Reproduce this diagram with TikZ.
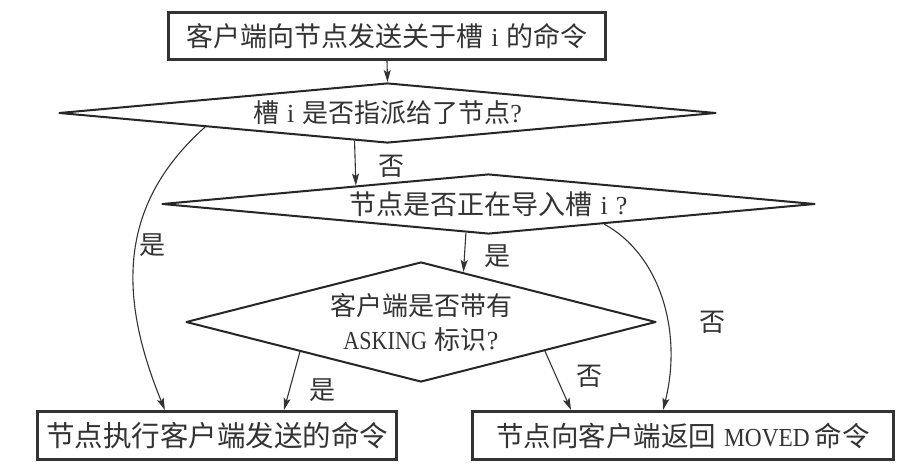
\documentclass[tikz,border=0pt]{standalone}
\usepackage{fontspec}
\setmainfont{Liberation Serif}
\newfontfamily\cjk{Noto Sans CJK SC}
\usetikzlibrary{shapes.geometric,arrows.meta,calc}

% CJK run at a given size
\newcommand\zhsz[2]{{\cjk\fontsize{#1}{#1}\selectfont #2}}

\begin{document}
\begin{tikzpicture}[x=1pt,y=-1pt,
  every node/.style={text=black!80},
  cmdbox/.style={draw=black!80, line width=3pt, inner sep=0pt,
    font=\fontsize{26}{30}\selectfont},
  decision/.style={diamond, draw=black!85, line width=2pt, line join=round,
    inner sep=0pt, align=center, font=\fontsize{26}{30}\selectfont},
  flow/.style={draw=black!80, line width=1.1pt,
    -{Stealth[length=12pt,width=7pt,inset=2.5pt]}},
  lbl/.style={inner sep=0pt},
]
\fill[white] (0,0) rectangle (905,464);
\useasboundingbox (0,0) rectangle (905,464);

% boxes
\node[cmdbox, minimum width=437pt, minimum height=47pt] (top) at (387,36)
  {\zhsz{27}{客户端向节点发送关于槽}\hspace{8pt}i\hspace{8pt}\zhsz{27}{的命令}};
\node[cmdbox, minimum width=359pt, minimum height=48pt] (lb) at (217,435.5)
  {\zhsz{28.5}{节点执行客户端发送的命令}};
\node[cmdbox, minimum width=421pt, minimum height=48pt] (rb) at (683,435.5)
  {\zhsz{27.5}{节点向客户端返回}\hspace{8pt}\scalebox{0.9}[1]{MOVED}\hspace{5pt}\zhsz{27.5}{命令}};

% decisions
\node[decision, aspect=10.9, minimum width=657pt, minimum height=60pt] (d1) at (387.5,113)
  {\zhsz{26}{槽}\hspace{8pt}i\hspace{8pt}\zhsz{26}{是否指派给了节点}?};
\node[decision, aspect=10.9, minimum width=653pt, minimum height=60pt] (d2) at (488.5,204)
  {\zhsz{27}{节点是否正在导入槽}\hspace{8pt}i\hspace{8pt}?};
\node[decision, aspect=3.9, minimum width=470pt, minimum height=120pt] (d3) at (421,322)
  {\zhsz{26}{客户端是否带有}\\[4pt]\scalebox{0.85}[1]{ASKING}\hspace{8pt}\zhsz{26}{标识}?};

% connectors
\draw[flow] (top.south) -- (d1.north);
\draw[flow] ($(d1.south)!0.1!(d1.west)$) -- ($(d2.north)!0.405!(d2.west)$);
\draw[flow] ($(d2.south)!0.069!(d2.west)$) -- ($(d3.north)!0.18!(d3.east)$);
\draw[flow] ($(d3.south)!0.513!(d3.west)$) -- ($(lb.north west)!0.685!(lb.north east)$);
\draw[flow] ($(d3.south)!0.525!(d3.east)$) -- ($(rb.north west)!0.236!(rb.north east)$);
\draw[flow] ($(d1.south)!0.553!(d1.west)$)
  .. controls +(-90,80) and +(-45,-110) .. ($(lb.north west)!0.356!(lb.north east)$);
\draw[flow] ($(d2.south)!0.353!(d2.east)$)
  .. controls +(55,30) and +(20,-80) .. ($(rb.north west)!0.453!(rb.north east)$);

% branch labels
\node[lbl] (no1) at (391,166) {\zhsz{26}{否}};
\node[lbl] (yes1) at (152,245) {\zhsz{26}{是}};
\node[lbl] (yes2) at (497,256) {\zhsz{26}{是}};
\node[lbl] (no2) at (712,322) {\zhsz{26}{否}};
\node[lbl] (no3) at (589,376) {\zhsz{26}{否}};
\node[lbl] (yes3) at (322,390) {\zhsz{26}{是}};
\end{tikzpicture}
\end{document}
